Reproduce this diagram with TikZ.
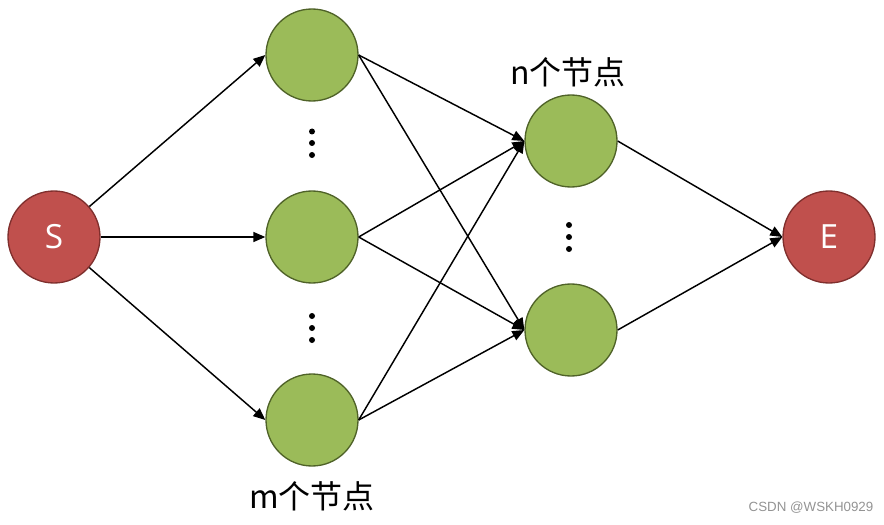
\documentclass[tikz,border=0pt]{standalone}
\usepackage{fontspec}
\setmainfont{Open Sans}
\setsansfont{Liberation Sans}
\newfontfamily\cjk{Noto Sans CJK SC}
\usetikzlibrary{arrows.meta}
\definecolor{redfill}{HTML}{C0504D}
\definecolor{redline}{HTML}{7F2F2D}
\definecolor{greenfill}{HTML}{9BBB59}
\definecolor{greenline}{HTML}{4F6228}
\tikzset{
  endnode/.style={circle, minimum size=69pt, inner sep=0pt, fill=redfill, draw=redline, line width=1pt, text=white, font=\fontsize{25}{25}\selectfont},
  midnode/.style={circle, minimum size=69pt, inner sep=0pt, fill=greenfill, draw=greenline, line width=1pt},
  conn/.style={draw=black, line width=1.1pt, -{Triangle[length=9pt,width=7.5pt]}},
  vdot/.style={circle, fill=black, inner sep=0pt, minimum size=4.5pt},
  lbl/.style={font=\cjk\fontsize{24}{24}\selectfont}
}
\begin{document}
\begin{tikzpicture}[x=0.75pt,y=-0.75pt]
\useasboundingbox (0,0) rectangle (884,524);
\node[endnode] (S) at (54,237) {S};
\node[endnode] (E) at (829,237) {E};
\node[midnode] (a1) at (312,55) {};
\node[midnode] (a2) at (312,237) {};
\node[midnode] (a3) at (312,420) {};
\node[midnode] (b1) at (571,141) {};
\node[midnode] (b2) at (571,330) {};
\foreach \y [count=\i] in {131.5,143,155}{\node[vdot] (d1\i) at (312,\y) {};}
\foreach \y [count=\i] in {316,328,340}{\node[vdot] (d2\i) at (312,\y) {};}
\foreach \y [count=\i] in {225,237,249}{\node[vdot] (d3\i) at (569,\y) {};}
\node[lbl] (ln) at (568,72) {n个节点};
\node[lbl] (lm) at (312,496) {m个节点};
\node[text=gray!85, font=\fontsize{10}{10}\selectfont\sffamily] (wm) at (811,508) {CSDN @WSKH0929};
\foreach \t in {a1,a2,a3}{\draw[conn] (S) -- (\t.west);}
\foreach \s in {a1,a2,a3}{\foreach \t in {b1,b2}{\draw[conn] (\s.east) -- (\t.west);}}
\foreach \s in {b1,b2}{\draw[conn] (\s.east) -- (E.west);}
\end{tikzpicture}
\end{document}
